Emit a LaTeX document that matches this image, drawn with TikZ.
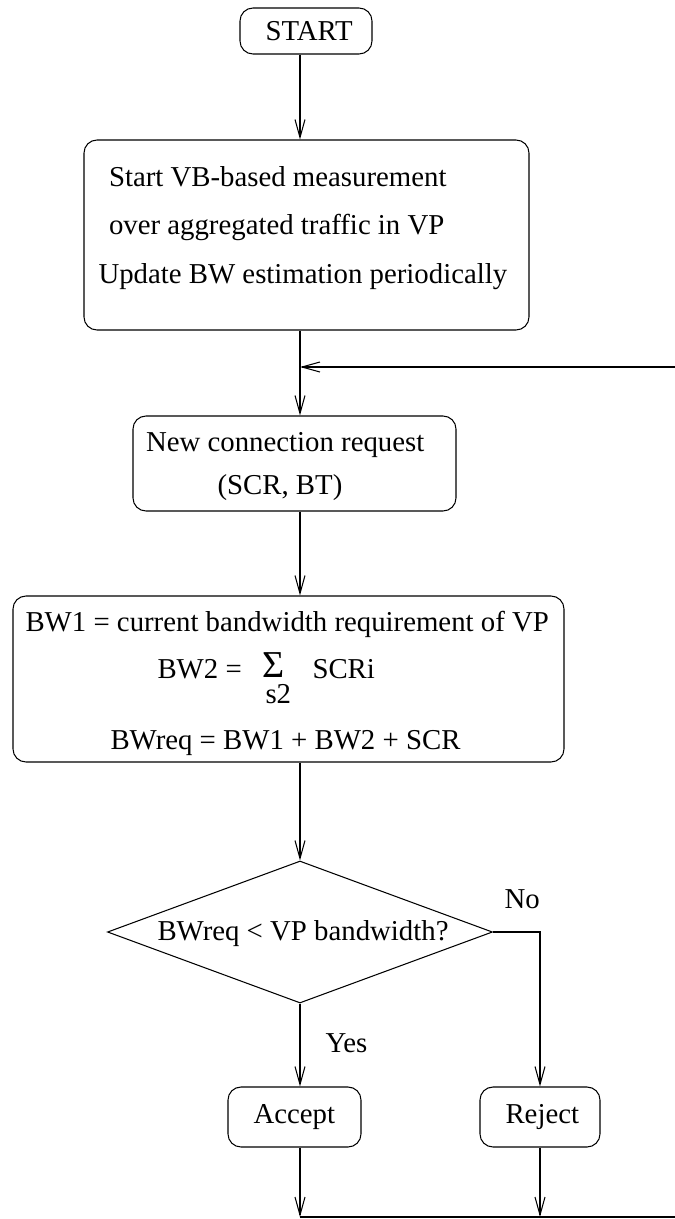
\documentclass[tikz,border=0pt]{standalone}
\usepackage{fontspec}
\setmainfont{Liberation Serif}
\usetikzlibrary{arrows.meta,shapes.geometric}
\begin{document}
\begin{tikzpicture}[x=1pt,y=-1pt,line width=1.05pt,
  box/.style={draw,rounded corners=13pt,inner sep=0pt},
  decision/.style={draw,diamond,inner sep=0pt},
  lbl/.style={anchor=base west,inner sep=0pt,font=\fontsize{28.8}{34}\selectfont},
  arr/.style={-{Straight Barb[length=18pt,width=10pt]}}]
\useasboundingbox (0,0) rectangle (675,1219);

% vertical spine of the flow and free ends of the loop lines
\coordinate (spine) at (300,0);
\coordinate (loopin) at (675,367);
\coordinate (bus) at (675,1217);

% boxes
\node[box,minimum width=132pt,minimum height=46pt] (start) at (306,31) {};
\node[box,minimum width=445pt,minimum height=190pt] (measure) at (306.5,235) {};
\node[box,minimum width=323pt,minimum height=95pt] (request) at (294.5,463.5) {};
\node[box,minimum width=551pt,minimum height=166pt] (calc) at (288.5,679) {};
\node[decision,minimum width=385pt,minimum height=142pt] (test) at (300,932) {};
\node[box,minimum width=133pt,minimum height=60pt] (accept) at (294.5,1117) {};
\node[box,minimum width=120pt,minimum height=60pt] (reject) at (540,1117) {};

% texts
\node[lbl] (tstart) at (265,40.5) {START};
\node[lbl] (tm1) at (108.5,186) {Start VB-based measurement};
\node[lbl] (tm2) at (108.5,234.5) {over aggregated traffic in VP};
\node[lbl] (tm3) at (98,283) {Update BW estimation periodically};
\node[lbl] (tr1) at (145.5,451) {New connection request};
\node[lbl] (tr2) at (217,494) {(SCR, BT)};
\node[lbl] (tc1) at (25,631) {BW1 = current bandwidth requirement of VP};
\node[lbl] (tc2) at (157,678) {BW2 =};
\node[lbl,font=\fontsize{38}{40}\selectfont] (tsum) at (262,677) {Σ};
\node[lbl] (tsub) at (265,703) {s2};
\node[lbl] (tscr) at (312,678) {SCRi};
\node[lbl] (tc3) at (110,749) {BWreq = BW1 + BW2 + SCR};
\node[lbl] (ttest) at (157,940) {BWreq < VP bandwidth?};
\node[lbl] (tno) at (504,908) {No};
\node[lbl] (tyes) at (325,1052) {Yes};
\node[lbl] (tacc) at (253,1123) {Accept};
\node[lbl] (trej) at (505,1123) {Reject};

% connectors
\draw[arr] (start.south -| spine) -- (measure.north -| spine);
\draw (measure.south -| spine) -- (loopin -| spine);
\draw[arr] (loopin) -- (loopin -| spine);
\draw[arr] (loopin -| spine) -- (request.north -| spine);
\draw[arr] (request.south -| spine) -- (calc.north -| spine);
\draw[arr] (calc.south -| spine) -- (test.north);
\draw[arr] (test.south) -- (accept.north -| spine);
\draw[arr] (test.east) -| (reject.north);
\draw[arr] (accept.south -| spine) -- (bus -| spine);
\draw[arr] (reject.south) -- (reject.south |- bus);
\draw (bus -| spine) -- (bus);
\end{tikzpicture}
\end{document}
